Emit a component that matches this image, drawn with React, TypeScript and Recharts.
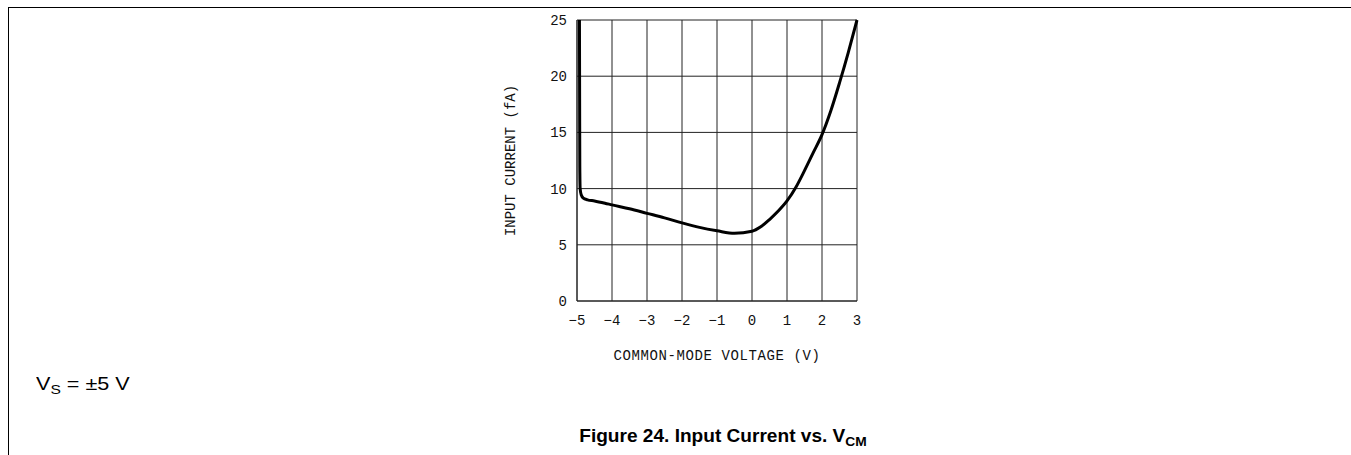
import { LineChart, Line, XAxis, YAxis, CartesianGrid } from 'recharts';

// common-mode voltage (V) and input current (fA)
const vcm = [-4.93, -4.925, -4.92, -4.91, -4.88, -4.82, -4.7, -4.5, -4.2, -4, -3.5, -3, -2.5, -2, -1.5, -1, -0.5, 0, 0.25, 0.5, 0.75, 1, 1.25, 1.5, 1.75, 2, 2.25, 2.5, 2.75, 3];
const current = [25, 18, 12, 10, 9.45, 9.15, 9.0, 8.9, 8.7, 8.55, 8.2, 7.8, 7.4, 6.95, 6.55, 6.25, 6.02, 6.2, 6.6, 7.25, 8.0, 8.9, 10.1, 11.6, 13.2, 14.8, 16.9, 19.4, 22.1, 25];

const xTicks = [-5, -4, -3, -2, -1, 0, 1, 2, 3];
const yTicks = [0, 5, 10, 15, 20, 25];

const data = vcm.map((v, i) => ({ v, i: current[i] }));

const axisFont = { fontFamily: '"Liberation Mono", "DejaVu Sans Mono", monospace', fontSize: 14, fill: '#111' };

export default function App() {
  return (
    <div style={{ position: 'absolute', left: 0, top: 0, width: 1351, height: 455, background: '#fff', overflow: 'hidden' }}>
      {/* page frame */}
      <div style={{ position: 'absolute', left: 8, top: 7, width: 1343, height: 448, borderTop: '1px solid #000', borderLeft: '1px solid #000' }} />

      <div style={{ position: 'absolute', left: 480, top: 0 }}>
        <LineChart width={400} height={365} data={data} margin={{ top: 20, right: 23, left: 0, bottom: 0 }}>
          <CartesianGrid stroke="#222" strokeWidth={1} />
          <XAxis
            dataKey="v"
            type="number"
            domain={[-5, 3]}
            ticks={xTicks}
            interval={0}
            tickSize={0}
            tickMargin={14}
            axisLine={{ stroke: '#222' }}
            tick={axisFont}
            tickFormatter={(t) => String(t).replace('-', '\u2212')}
            height={64}
            label={{
              value: 'COMMON-MODE VOLTAGE (V)',
              position: 'insideBottom',
              offset: 5,
              style: { ...axisFont, letterSpacing: 0.6 },
            }}
          />
          <YAxis
            type="number"
            domain={[0, 25]}
            ticks={yTicks}
            interval={0}
            tickSize={0}
            tickMargin={10}
            axisLine={{ stroke: '#222' }}
            tick={axisFont}
            width={97}
            label={{
              value: 'INPUT CURRENT (fA)',
              angle: -90,
              position: 'insideLeft',
              offset: 30,
              style: { ...axisFont, letterSpacing: 0, textAnchor: 'middle' },
            }}
          />
          <Line
            type="monotone"
            dataKey="i"
            stroke="#000"
            strokeWidth={3}
            dot={false}
            isAnimationActive={false}
          />
        </LineChart>
      </div>

      <div style={{ position: 'absolute', left: 36, top: 374, fontFamily: '"Liberation Sans", Arial, sans-serif', fontSize: 18, color: '#000', transform: 'scaleX(1.2)', transformOrigin: 'left top', whiteSpace: 'nowrap' }}>
        V<sub style={{ fontSize: 13, verticalAlign: '-4px' }}>S</sub> = ±5 V
      </div>

      <div style={{ position: 'absolute', left: 723, top: 426, transform: 'translateX(-50%) scaleX(1.06)', fontFamily: '"Liberation Sans", Arial, sans-serif', fontSize: 18, fontWeight: 'bold', color: '#000', whiteSpace: 'nowrap' }}>
        Figure 24. Input Current vs. V<sub style={{ fontSize: 13, verticalAlign: '-4px' }}>CM</sub>
      </div>
    </div>
  );
}
